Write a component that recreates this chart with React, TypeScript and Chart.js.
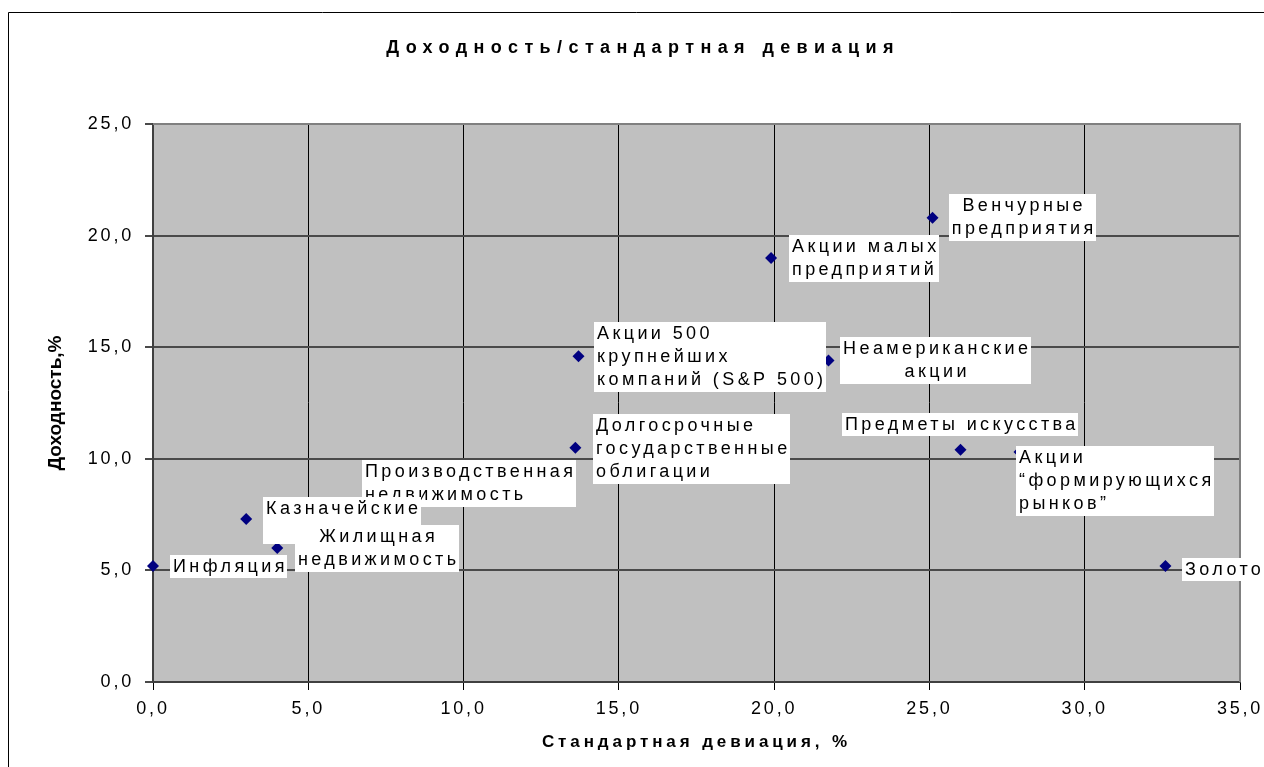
import React, { useEffect, useRef } from 'react';
import { Chart, registerables } from 'chart.js';

Chart.register(...registerables);

// ---------- data ----------
const assetNames: string[][] = [
  ['Инфляция'],
  ['Производственная', 'недвижимость'],
  ['Казначейские', 'векселя'],
  ['Жилищная', 'недвижимость'],
  ['Долгосрочные', 'государственные', 'облигации'],
  ['Акции 500', 'крупнейших', 'компаний (S&P 500)'],
  ['Акции малых', 'предприятий'],
  ['Неамериканские', 'акции'],
  ['Венчурные', 'предприятия'],
  ['Предметы искусства'],
  ['Акции', '“формирующихся', 'рынков”'],
  ['Золото'],
];
const stdDev = [0.0, 8.5, 3.0, 4.0, 13.6, 13.7, 19.9, 21.75, 25.1, 26.0, 27.9, 32.6];
const returns = [5.2, 9.0, 7.3, 6.0, 10.5, 14.6, 19.0, 14.4, 20.8, 10.4, 10.3, 5.2];

const xTickValues = [0, 5, 10, 15, 20, 25, 30, 35];
const yTickValues = [0, 5, 10, 15, 20, 25];

const chartTitle = 'Доходность/стандартная девиация';
const xTitle = 'Стандартная девиация, %';
const yTitle = 'Доходность,%';

// ---------- label layout (pixel offsets of label box from its point) ----------
const labelOffsetX = [17, -55, 17, 18, 18, 16, 18, 11.5, 16, -118, -3.5, 16.5];
const labelOffsetY = [-11, -21, -22, -23, -34, -34, -23, -24, -24, -37, -6, -8];
const labelAlign = ['left', 'left', 'center', 'center', 'left', 'left', 'left', 'center', 'center', 'left', 'left', 'left'];

const FONT = '"Liberation Sans", Arial, sans-serif';
const LABEL_SPACING = 3.4;
const LABEL_PAD = 3;
const LINE_H = 23.3;

const fmt = (v: number) => v.toFixed(1).replace('.', ',');

function patch(obj: any, method: string, spacing: string) {
  if (!obj || obj['__ls_' + method]) return;
  const orig = obj[method];
  obj[method] = function (...args: any[]) {
    const ctx = this.ctx;
    const prev = ctx.letterSpacing;
    ctx.letterSpacing = spacing;
    const r = orig.apply(this, args);
    ctx.letterSpacing = prev;
    return r;
  };
  obj['__ls_' + method] = true;
}

const decorPlugin = {
  id: 'decor',
  beforeDraw(chart: any) {
    const { ctx, chartArea: a, width, height } = chart;
    patch(chart.titleBlock, 'draw', '6.4px');
    patch(chart.scales.x, 'drawLabels', '2.8px');
    patch(chart.scales.y, 'drawLabels', '2.8px');
    patch(chart.scales.x, 'drawTitle', '3.9px');
    patch(chart.scales.y, 'drawTitle', '0px');
    ctx.save();
    ctx.fillStyle = '#ffffff';
    ctx.fillRect(0, 0, width, height);
    ctx.strokeStyle = '#000000';
    ctx.lineWidth = 1;
    ctx.beginPath();
    ctx.moveTo(8.5, height + 5);
    ctx.lineTo(8.5, 12.5);
    ctx.lineTo(width + 5, 12.5);
    ctx.stroke();
    ctx.fillStyle = '#C0C0C0';
    ctx.fillRect(a.left, a.top, a.right - a.left, a.bottom - a.top);
    ctx.restore();
  },
  beforeDatasetsDraw(chart: any) {
    const { ctx, chartArea: a } = chart;
    ctx.save();
    ctx.strokeStyle = '#808080';
    ctx.lineWidth = 2;
    ctx.beginPath();
    ctx.moveTo(a.left, a.top);
    ctx.lineTo(a.right, a.top);
    ctx.lineTo(a.right, a.bottom);
    ctx.stroke();
    ctx.restore();
  },
  afterDatasetsDraw(chart: any) {
    const { ctx } = chart;
    const meta = chart.getDatasetMeta(0);
    ctx.save();
    ctx.font = '18px ' + FONT;
    ctx.letterSpacing = LABEL_SPACING + 'px';
    ctx.textBaseline = 'middle';
    ctx.textAlign = 'left';
    meta.data.forEach((pt: any, i: number) => {
      const lines = assetNames[i];
      const widths = lines.map((l) => ctx.measureText(l).width - LABEL_SPACING);
      const w = Math.round(Math.max(...widths) + 2 * LABEL_PAD);
      const h = Math.round(lines.length * LINE_H);
      const left = Math.round(pt.x + labelOffsetX[i]);
      const top = Math.round(pt.y + labelOffsetY[i]);
      ctx.fillStyle = '#ffffff';
      ctx.fillRect(left, top, w, h);
      ctx.fillStyle = '#000000';
      lines.forEach((line, j) => {
        const cy = top + LINE_H * (j + 0.5);
        const x = labelAlign[i] === 'center' ? left + (w - widths[j]) / 2 : left + LABEL_PAD;
        ctx.fillText(line, x, cy);
      });
    });
    ctx.restore();
  },
};

export default function App() {
  const ref = useRef<HTMLCanvasElement | null>(null);

  useEffect(() => {
    if (!ref.current) return;
    Chart.defaults.font.family = FONT;
    Chart.defaults.color = '#000000';
    const chart = new Chart(ref.current, {
      type: 'scatter',
      data: {
        datasets: [
          {
            label: 'assets',
            data: stdDev.map((x, i) => ({ x, y: returns[i] })),
            pointStyle: 'rectRot',
            pointRadius: 6,
            pointHoverRadius: 6,
            backgroundColor: '#000080',
            borderColor: '#000080',
            borderWidth: 0,
            clip: false as any,
          },
        ],
      },
      options: {
        animation: false,
        responsive: false,
        events: [],
        layout: { padding: { left: 46, right: 24, top: 0, bottom: 0 } },
        plugins: {
          legend: { display: false },
          tooltip: { enabled: false },
          title: {
            display: true,
            text: chartTitle,
            color: '#000000',
            font: { family: FONT, size: 18, weight: 'bold', lineHeight: 1.2 },
            padding: { top: 37, bottom: 65.4 },
          },
        },
        scales: {
          x: {
            type: 'linear',
            min: 0,
            max: 35,
            afterBuildTicks: (s: any) => {
              s.ticks = xTickValues.map((value) => ({ value }));
            },
            afterFit: (s: any) => {
              s.height = 85;
              s.paddingLeft = 0;
              s.paddingRight = 0;
            },
            grid: { color: '#000000', lineWidth: 1, tickLength: 8, tickColor: '#000000' },
            border: { display: true, color: '#404040', width: 2 },
            ticks: {
              padding: 8,
              color: '#000000',
              font: { family: FONT, size: 18 },
              maxRotation: 0,
              callback: (v: any) => fmt(Number(v)),
            },
            title: {
              display: true,
              text: xTitle,
              color: '#000000',
              font: { family: FONT, size: 17, weight: 'bold', lineHeight: 1.2 },
              padding: { top: 0, bottom: 14 },
            },
          },
          y: {
            type: 'linear',
            min: 0,
            max: 25,
            afterBuildTicks: (s: any) => {
              s.ticks = yTickValues.map((value) => ({ value }));
            },
            afterFit: (s: any) => {
              s.width = 107;
              s.paddingTop = 0;
              s.paddingBottom = 0;
            },
            grid: { color: '#4a4a4a', lineWidth: 2, tickLength: 8, tickColor: '#4a4a4a' },
            border: { display: true, color: '#404040', width: 2 },
            ticks: {
              padding: 11,
              color: '#000000',
              font: { family: FONT, size: 18 },
              callback: (v: any) => fmt(Number(v)),
            },
            title: {
              display: true,
              text: yTitle,
              color: '#000000',
              font: { family: FONT, size: 19, weight: 'bold', lineHeight: 1 },
              padding: { top: 0, bottom: 0 },
            },
          },
        },
      },
      plugins: [decorPlugin],
    } as any);
    return () => chart.destroy();
  }, []);

  return (
    <div style={{ position: 'fixed', left: 0, top: 0, width: 1264, height: 767, overflow: 'hidden', background: '#fff' }}>
      <canvas ref={ref} width={1264} height={767} style={{ display: 'block' }} />
    </div>
  );
}
